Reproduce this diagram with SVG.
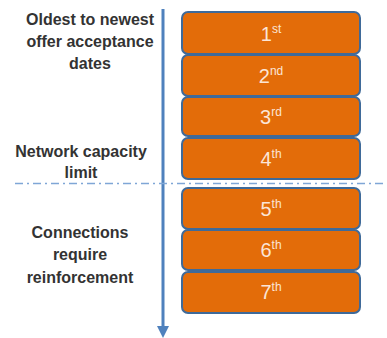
<svg xmlns="http://www.w3.org/2000/svg" width="387" height="338" viewBox="0 0 387 338">
<defs>
<style>
.box{fill:#E36C09;stroke:#3F6A99;stroke-width:2}
.num{font-family:"Liberation Sans",Arial,sans-serif;font-size:20px;fill:#FBE5D6;text-anchor:middle}
.sup{font-size:12px}
.lbl{font-family:"Liberation Sans",Arial,sans-serif;font-size:16px;font-weight:bold;fill:#333333;text-anchor:middle}
</style>
<marker id="ah" markerWidth="4" markerHeight="4" refX="2" refY="2" orient="auto" markerUnits="strokeWidth" viewBox="0 0 4 4">
<path d="M0,0 L4,2 L0,4 Z" fill="#4F81BD"/>
</marker>
</defs>
<rect width="387" height="338" fill="#FFFFFF"/>
<g id="connectors">
<line x1="163" y1="9" x2="163" y2="332" stroke="#4F81BD" stroke-width="3" marker-end="url(#ah)"/>
<line x1="15" y1="183.5" x2="386" y2="183.5" stroke="#7FA6D6" stroke-width="1.5" stroke-dasharray="8,4,2,4"/>
</g>
<g id="label-oldest">
<text class="lbl" x="90" y="25">Oldest to newest</text>
<text class="lbl" x="90" y="47">offer acceptance</text>
<text class="lbl" x="90" y="69">dates</text>
</g>
<g id="label-capacity">
<text class="lbl" x="81" y="157">Network capacity</text>
<text class="lbl" x="81" y="178">limit</text>
</g>
<g id="label-reinforcement">
<text class="lbl" x="80" y="238">Connections</text>
<text class="lbl" x="80" y="260">require</text>
<text class="lbl" x="80" y="283">reinforcement</text>
</g>
<g id="box1"><rect class="box" x="182" y="12" width="178" height="42" rx="6"/><text class="num" x="271" y="41">1<tspan class="sup" dy="-8">st</tspan></text></g>
<g id="box2"><rect class="box" x="182" y="55" width="178" height="41" rx="6"/><text class="num" x="271" y="83">2<tspan class="sup" dy="-8">nd</tspan></text></g>
<g id="box3"><rect class="box" x="182" y="97" width="178" height="39" rx="6"/><text class="num" x="271" y="124">3<tspan class="sup" dy="-8">rd</tspan></text></g>
<g id="box4"><rect class="box" x="182" y="138" width="178" height="41" rx="6"/><text class="num" x="271" y="166">4<tspan class="sup" dy="-8">th</tspan></text></g>
<g id="box5"><rect class="box" x="182" y="188" width="178" height="41" rx="6"/><text class="num" x="271" y="216">5<tspan class="sup" dy="-8">th</tspan></text></g>
<g id="box6"><rect class="box" x="182" y="230" width="178" height="40" rx="6"/><text class="num" x="271" y="257">6<tspan class="sup" dy="-8">th</tspan></text></g>
<g id="box7"><rect class="box" x="182" y="272" width="178" height="41" rx="6"/><text class="num" x="271" y="299">7<tspan class="sup" dy="-8">th</tspan></text></g>
</svg>
